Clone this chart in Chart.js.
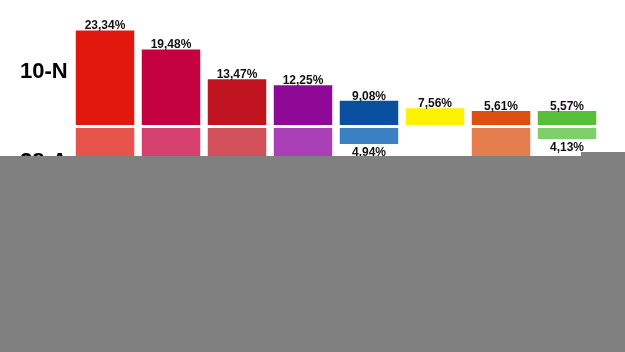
<!DOCTYPE html>
<html>
<head>
<meta charset="utf-8">
<script src="https://cdn.jsdelivr.net/npm/chart.js@4/dist/chart.umd.min.js"></script>
<style>
  html, body { margin: 0; padding: 0; background: #fff; }
  body { width: 625px; height: 352px; position: relative; overflow: hidden; font-family: "Liberation Sans", Arial, sans-serif; }
  #topWrap { position: absolute; left: 0; top: 0; width: 625px; height: 125px; }
  #botWrap { position: absolute; left: 0; top: 128px; width: 625px; height: 224px; }
  .elab { position: absolute; font-weight: bold; font-size: 22px; color: #000; line-height: 1; }
  .cover { position: absolute; background: #808080; }
</style>
</head>
<body>
<div id="topWrap"><canvas id="topChart"></canvas></div>
<div id="botWrap"><canvas id="botChart"></canvas></div>
<div class="elab" id="lab1" style="left:20px; top:60px;">10-N</div>
<div class="elab" id="lab2" style="left:20px; top:150px;">28-A</div>
<div class="cover" style="left:0; top:156px; width:625px; height:196px;"></div>
<div class="cover" style="left:581px; top:152px; width:44px; height:4px;"></div>
<script>
const parties = ["P1", "P2", "P3", "P4", "P5", "P6", "P7", "P8"];
const election1 = "10-N";
const election2 = "28-A";
const values10N = [23.34, 19.48, 13.47, 12.25, 9.08, 7.56, 5.61, 5.57];
// 28-A: only 4.94 and 4.13 are readable; the others are hidden behind the grey block (estimated)
const values28A = [24.10, 22.60, 12.40, 14.80, 4.94, null, 11.20, 4.13];
const colors10N = ["#E2180E", "#C3023F", "#C01520", "#8E0A96", "#0A50A0", "#FFF200", "#DE4E11", "#56BE3A"];
const colors28A = ["#E8534B", "#D6406F", "#D2505A", "#AA40B5", "#3A80C3", "#FFF67A", "#E57D4E", "#7DD06A"];

function fmt(v) { return v.toFixed(2).replace('.', ',') + '%'; }

const labelPlugin = {
  id: 'valLabels',
  afterDatasetsDraw(chart, args, opts) {
    const ctx = chart.ctx;
    const meta = chart.getDatasetMeta(0);
    const data = chart.data.datasets[0].data;
    ctx.save();
    ctx.font = 'bold 12px "Liberation Sans", Arial, sans-serif';
    ctx.fillStyle = '#111';
    ctx.textAlign = 'center';
    ctx.textBaseline = 'alphabetic';
    meta.data.forEach((el, i) => {
      const v = data[i];
      if (v === null || v === undefined) return;
      if (opts.below) {
        ctx.fillText(fmt(v), el.x, el.y + 12);
      } else {
        ctx.fillText(fmt(v), el.x, el.y - 1);
      }
    });
    ctx.restore();
  }
};

const common = (reverse, min, max) => ({
  responsive: true,
  maintainAspectRatio: false,
  animation: false,
  layout: { padding: { left: 72, right: 25, top: 0, bottom: 0 } },
  plugins: { legend: { display: false }, tooltip: { enabled: false } },
  scales: {
    x: { display: false, grid: { display: false } },
    y: { display: false, min: min, max: max, reverse: reverse, grid: { display: false } }
  }
});

const topBase = 4.19;
const topOpts = common(false, topBase, topBase + 125 / 4.94);
topOpts.plugins.valLabels = { below: false };
new Chart(document.getElementById('topChart'), {
  type: 'bar',
  data: {
    labels: parties,
    datasets: [{
      label: election1,
      data: values10N,
      backgroundColor: colors10N,
      borderWidth: 0,
      barPercentage: 0.886,
      categoryPercentage: 1.0,
      base: topBase,
      minBarLength: 14
    }]
  },
  options: topOpts,
  plugins: [labelPlugin]
});

const botBase = 2.35;
const botOpts = common(true, botBase, botBase + 224 / 6.17);
botOpts.plugins.valLabels = { below: true };
new Chart(document.getElementById('botChart'), {
  type: 'bar',
  data: {
    labels: parties,
    datasets: [{
      label: election2,
      data: values28A,
      backgroundColor: colors28A,
      borderWidth: 0,
      barPercentage: 0.886,
      categoryPercentage: 1.0,
      base: botBase
    }]
  },
  options: botOpts,
  plugins: [labelPlugin]
});
</script>
</body>
</html>
